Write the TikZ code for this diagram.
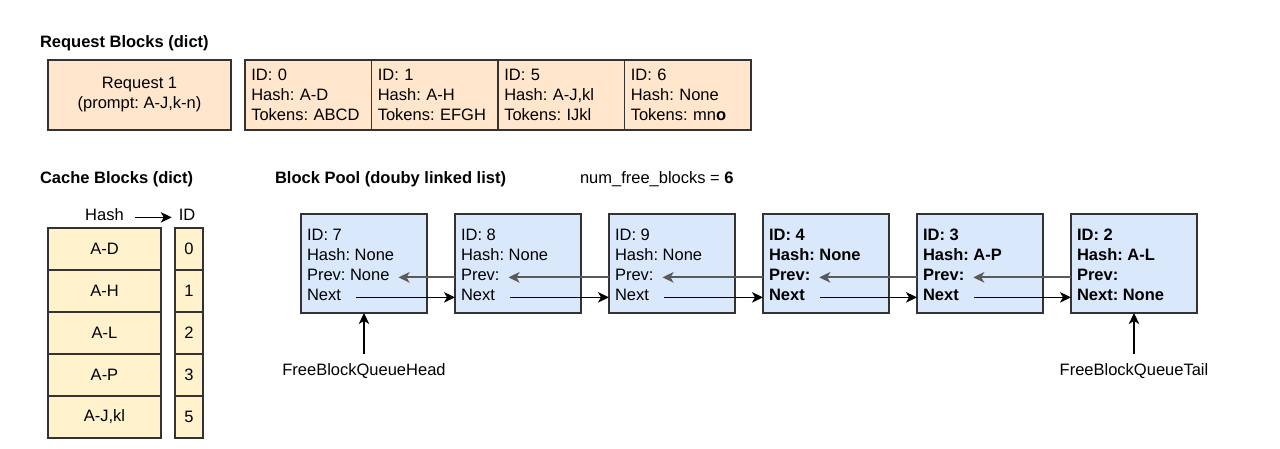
\documentclass[tikz,border=0pt]{standalone}
\usepackage{fontspec}
\setmainfont{Liberation Sans}
\usetikzlibrary{arrows.meta,calc}
\definecolor{peach}{HTML}{FFE6CC}
\definecolor{cream}{HTML}{FFF2CC}
\definecolor{lblue}{HTML}{DAE8FC}
\definecolor{edgec}{HTML}{333333}
\definecolor{prevc}{HTML}{5A5A5A}
\begin{document}
\begin{tikzpicture}[x=1pt,y=-1pt,
  font=\fontsize{16.5}{20}\selectfont\frenchspacing,
  cellbox/.style={draw=edgec,line width=1.3pt,fill=#1,inner sep=0pt,outer sep=0pt},
  txt/.style={inner sep=0pt,outer sep=0pt},
  title/.style={inner sep=0pt,outer sep=0pt,font=\fontsize{16.5}{20}\selectfont\bfseries,anchor=base west},
  tip/.style={-{Stealth[length=11pt,width=10.5pt,inset=3pt]}},
  arr/.style={tip,draw=black,line width=1.1pt},
  prevarrow/.style={tip,draw=prevc,line width=1.9pt},
  nextarrow/.style={tip,draw=black,line width=1.1pt}]
\useasboundingbox[fill=white] (0,0) rectangle (1280,448);

% ---------- Request blocks ----------
\node[title] (t1) at (40,47) {Request Blocks (dict)};
\node[cellbox=peach,minimum width=183pt,minimum height=70pt,anchor=north west,align=center] (req) at (48,60) {Request 1\\(prompt: A-J,k-n)};
\tikzset{tok/.style={cellbox=peach,minimum width=126.5pt,minimum height=70pt,anchor=north west,align=left,text width=114pt}}
\node[tok] (r1) at (245,60) {ID: 0\\Hash: A-D\\Tokens: ABCD};
\node[tok] (r2) at (371.5,60) {ID: 1\\Hash: A-H\\Tokens: EFGH};
\node[tok] (r3) at (498,60) {ID: 5\\Hash: A-J,kl\\Tokens: IJkl};
\node[tok] (r4) at (624.5,60) {ID: 6\\Hash: None\\Tokens: mn\textbf{o}};

% ---------- titles row 2 ----------
\node[title] (t2) at (40,183) {Cache Blocks (dict)};
\node[title] (t3) at (275,183) {Block Pool (douby linked list)};
\node[txt,anchor=base west] (nfb) at (580,183) {num\_free\_blocks = \textbf{6}};

% ---------- Cache blocks ----------
\node[txt,anchor=base] (hh) at (104.5,220) {Hash};
\node[txt,anchor=base] (hid) at (187,220) {ID};
\draw[arr,shorten <=11pt,shorten >=7pt] (hh.mid east) -- (hid.mid west);
\foreach \k/\h/\v in {0/A-D/0,1/A-H/1,2/A-L/2,3/A-P/3,4/{A-J,kl}/5}{
  \node[cellbox=cream,minimum width=113pt,minimum height=42pt,anchor=north west] (ch\k) at (48,228+42*\k) {\h};
  \node[cellbox=cream,minimum width=28pt,minimum height=42pt,anchor=north west] (cv\k) at (175,228+42*\k) {\v};
}

% ---------- Block pool ----------
\foreach \i/\x/\id/\hs/\pv/\nx/\f in {
  1/301/7/None/Prev: None/Next/\mdseries,
  2/455/8/None/Prev:/Next/\mdseries,
  3/609/9/None/Prev:/Next/\mdseries,
  4/763/4/None/Prev:/Next/\bfseries,
  5/917/3/A-P/Prev:/Next/\bfseries,
  6/1071/2/A-L/Prev:/Next: None/\bfseries}{
  \node[cellbox=lblue,minimum width=126pt,minimum height=99pt,anchor=north west] (b\i) at (\x,214) {};
  \node[txt,anchor=base west] (id\i) at (\x+6,240) {\f ID: \id};
  \node[txt,anchor=base west] (hs\i) at (\x+6,260) {\f Hash: \hs};
  \node[txt,anchor=base west] (pv\i) at (\x+6,280) {\f \pv};
  \node[txt,anchor=base west] (nx\i) at (\x+6,300) {\f \nx};
}
\foreach \i [evaluate=\i as \j using int(\i+1)] in {1,...,5}{
  \coordinate (pt\i) at ($(pv\i.mid east)+(9,0)$);
  \coordinate (ns\i) at ($(nx\i.mid east)+(15,0)$);
  \draw[prevarrow] (b\j.west |- pt\i) -- (pt\i);
  \draw[nextarrow] (ns\i) -- (b\j.west |- ns\i);
}

% ---------- head / tail ----------
\node[txt,anchor=base] (head) at (364,375) {FreeBlockQueueHead};
\node[txt,anchor=base] (tail) at (1134,375) {FreeBlockQueueTail};
\draw[arr,shorten <=9pt] (head.north) -- (b1.south);
\draw[arr,shorten <=9pt] (tail.north) -- (b6.south);
\end{tikzpicture}
\end{document}
